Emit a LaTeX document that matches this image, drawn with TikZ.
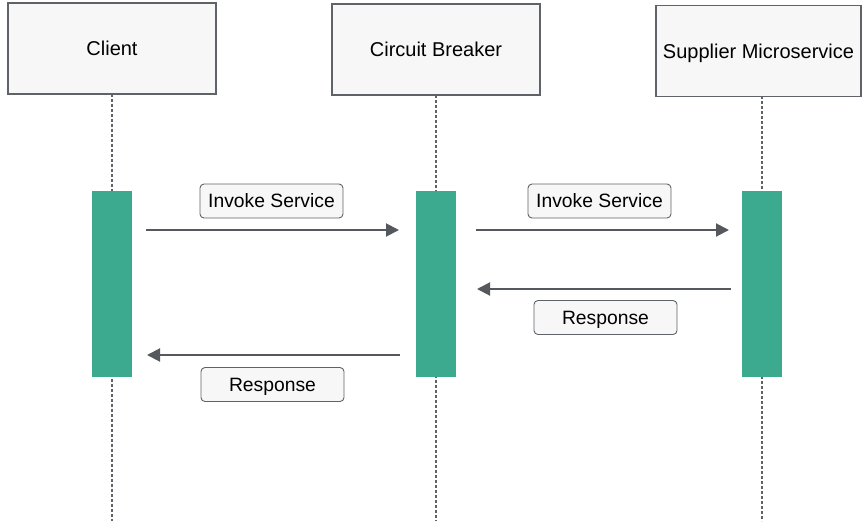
\documentclass[tikz,border=0pt]{standalone}
\usepackage{fontspec}
\setmainfont{Liberation Sans}
\usetikzlibrary{arrows.meta}
\definecolor{boxfill}{HTML}{F7F7F7}
\definecolor{boxline}{HTML}{5F6368}
\definecolor{bargreen}{HTML}{3BAA8F}
\definecolor{arrowgray}{HTML}{55595E}
\begin{document}
\begin{tikzpicture}[x=1pt,y=-1pt,
    party/.style={draw=boxline,line width=1.8pt,fill=boxfill,minimum height=91pt,inner sep=0pt,text height=14.3pt,text depth=0pt,font=\fontsize{20}{24}\selectfont},
    actbar/.style={fill=bargreen,draw=none,minimum width=40pt,minimum height=186pt,inner sep=0pt},
    lifeline/.style={draw=boxline,line width=2pt,dash pattern=on 3pt off 2pt},
    msg/.style={draw=arrowgray,line width=2pt,-{Triangle[length=13pt,width=13pt]}},
    msglabel/.style={draw=boxline,line width=0.9pt,fill=boxfill,rounded corners=4pt,minimum width=143pt,minimum height=34pt,inner sep=0pt,text height=13.8pt,text depth=0pt,font=\fontsize{19.3}{23}\selectfont}]
    \useasboundingbox (0,0) rectangle (862,523);
    % participants, lifelines and activation bars
    \foreach \name/\bx/\by/\bw/\lx/\txt in {client/112/48.5/208/112/Client,breaker/436/49.5/208/436/Circuit Breaker,supplier/758.5/51/205/762/Supplier Microservice} {
        \node[party,minimum width=\bw pt] (\name) at (\bx,\by) {\txt};
        \coordinate (\name top) at (\lx,\by+45);
        \coordinate (\name end) at (\lx,521);
        \draw[lifeline] (\name top) -- (\name end);
        \node[actbar] (\name bar) at (\lx,284) {};
    }
    % messages
    \coordinate (m1s) at (146,230); \coordinate (m1e) at (399,230);
    \coordinate (m2s) at (476,230); \coordinate (m2e) at (729,230);
    \coordinate (m3s) at (731,289); \coordinate (m3e) at (477,289);
    \coordinate (m4s) at (400,355); \coordinate (m4e) at (147,355);
    \draw[msg] (m1s) -- (m1e);
    \draw[msg] (m2s) -- (m2e);
    \draw[msg] (m3s) -- (m3e);
    \draw[msg] (m4s) -- (m4e);
    \node[msglabel] (l1) at (271.5,201) {Invoke Service};
    \node[msglabel] (l2) at (599.5,201) {Invoke Service};
    \node[msglabel] (l3) at (605.5,317.5) {Response};
    \node[msglabel] (l4) at (272.5,384.5) {Response};
\end{tikzpicture}
\end{document}
